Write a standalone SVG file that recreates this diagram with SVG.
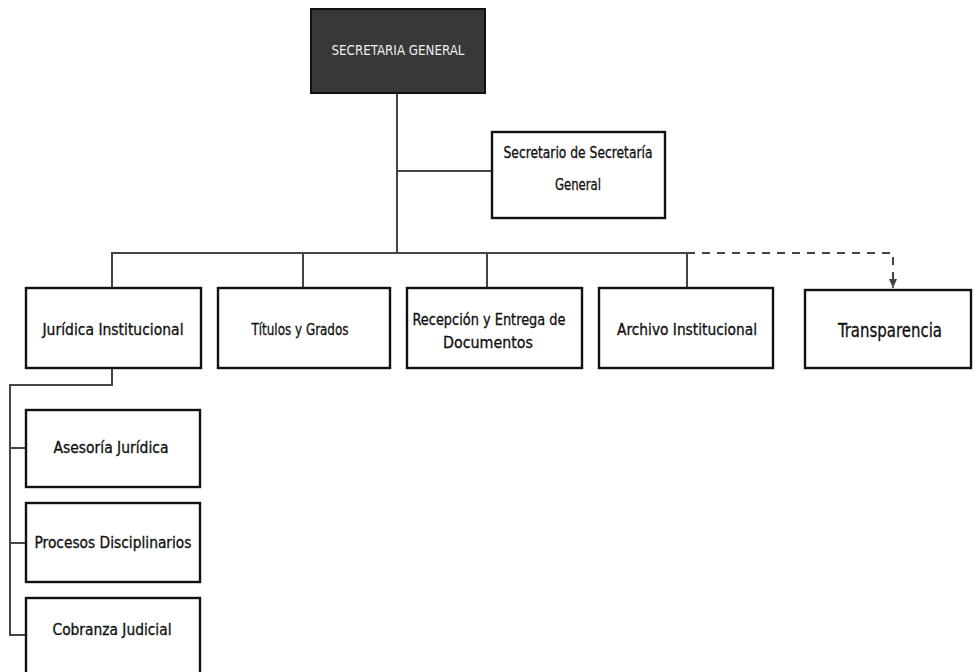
<svg xmlns="http://www.w3.org/2000/svg" width="974" height="672" viewBox="0 0 974 672">
<defs>
<style>
.box{fill:#fff;stroke:#111;stroke-width:2.4}
.t{font-family:"Liberation Sans Narrow","DejaVu Sans Condensed","Liberation Sans",sans-serif;font-size:15px;fill:#111;text-anchor:middle;stroke:#111;stroke-width:0.3}
.c{fill:none;stroke:#444;stroke-width:2}
</style>
<marker id="arr" viewBox="0 0 10 10" refX="9" refY="5" markerWidth="5" markerHeight="5" orient="auto">
<path d="M0,1 L9,5 L0,9 z" fill="#444"/>
</marker>
</defs>
<rect width="974" height="672" fill="#fff"/>
<g id="connectors">
<path class="c" d="M397,93 V253"/>
<path class="c" d="M397,171 H492"/>
<path class="c" d="M112,288 V253 H687 V288"/>
<path class="c" d="M303,253 V288"/>
<path class="c" d="M487,253 V288"/>
<path class="c" d="M687,253 H893 V288" stroke-dasharray="8 7" marker-end="url(#arr)"/>
<path class="c" d="M112,368 V385 H10 V635 H26"/>
<path class="c" d="M10,448 H26"/>
<path class="c" d="M10,543 H26"/>
</g>
<g id="secretaria-general">
<rect x="311" y="9" width="174" height="84" fill="#383838" stroke="#111" stroke-width="2"/>
<text class="t" x="398" y="55" style="fill:#eee;stroke:none;font-size:14px" textLength="133" lengthAdjust="spacingAndGlyphs">SECRETARIA GENERAL</text>
</g>
<g id="secretario">
<rect class="box" x="492" y="132" width="173" height="86"/>
<text class="t" x="578" y="158" textLength="149" lengthAdjust="spacingAndGlyphs">Secretario de Secretaría</text>
<text class="t" x="578" y="190" textLength="46" lengthAdjust="spacingAndGlyphs">General</text>
</g>
<g id="juridica">
<rect class="box" x="26" y="288" width="175" height="80"/>
<text class="t" x="113" y="335" textLength="141" lengthAdjust="spacingAndGlyphs">Jurídica Institucional</text>
</g>
<g id="titulos">
<rect class="box" x="218" y="288" width="172" height="80"/>
<text class="t" x="300" y="335" textLength="97" lengthAdjust="spacingAndGlyphs">Títulos y Grados</text>
</g>
<g id="recepcion">
<rect class="box" x="407" y="288" width="175" height="80"/>
<text class="t" x="489" y="325" textLength="153" lengthAdjust="spacingAndGlyphs">Recepción y Entrega de</text>
<text class="t" x="488" y="348" textLength="90" lengthAdjust="spacingAndGlyphs">Documentos</text>
</g>
<g id="archivo">
<rect class="box" x="599" y="288" width="174" height="80"/>
<text class="t" x="687" y="335" textLength="140" lengthAdjust="spacingAndGlyphs">Archivo Institucional</text>
</g>
<g id="transparencia">
<rect class="box" x="805" y="290" width="166" height="78"/>
<text class="t" x="890" y="337" style="font-size:19px" textLength="104" lengthAdjust="spacingAndGlyphs">Transparencia</text>
</g>
<g id="asesoria">
<rect class="box" x="26" y="410" width="174" height="77"/>
<text class="t" x="111" y="453" textLength="115" lengthAdjust="spacingAndGlyphs">Asesoría Jurídica</text>
</g>
<g id="procesos">
<rect class="box" x="26" y="503" width="174" height="79"/>
<text class="t" x="113" y="548" textLength="157" lengthAdjust="spacingAndGlyphs">Procesos Disciplinarios</text>
</g>
<g id="cobranza">
<rect class="box" x="26" y="598" width="174" height="90"/>
<text class="t" x="112" y="635" textLength="119" lengthAdjust="spacingAndGlyphs">Cobranza Judicial</text>
</g>
</svg>
